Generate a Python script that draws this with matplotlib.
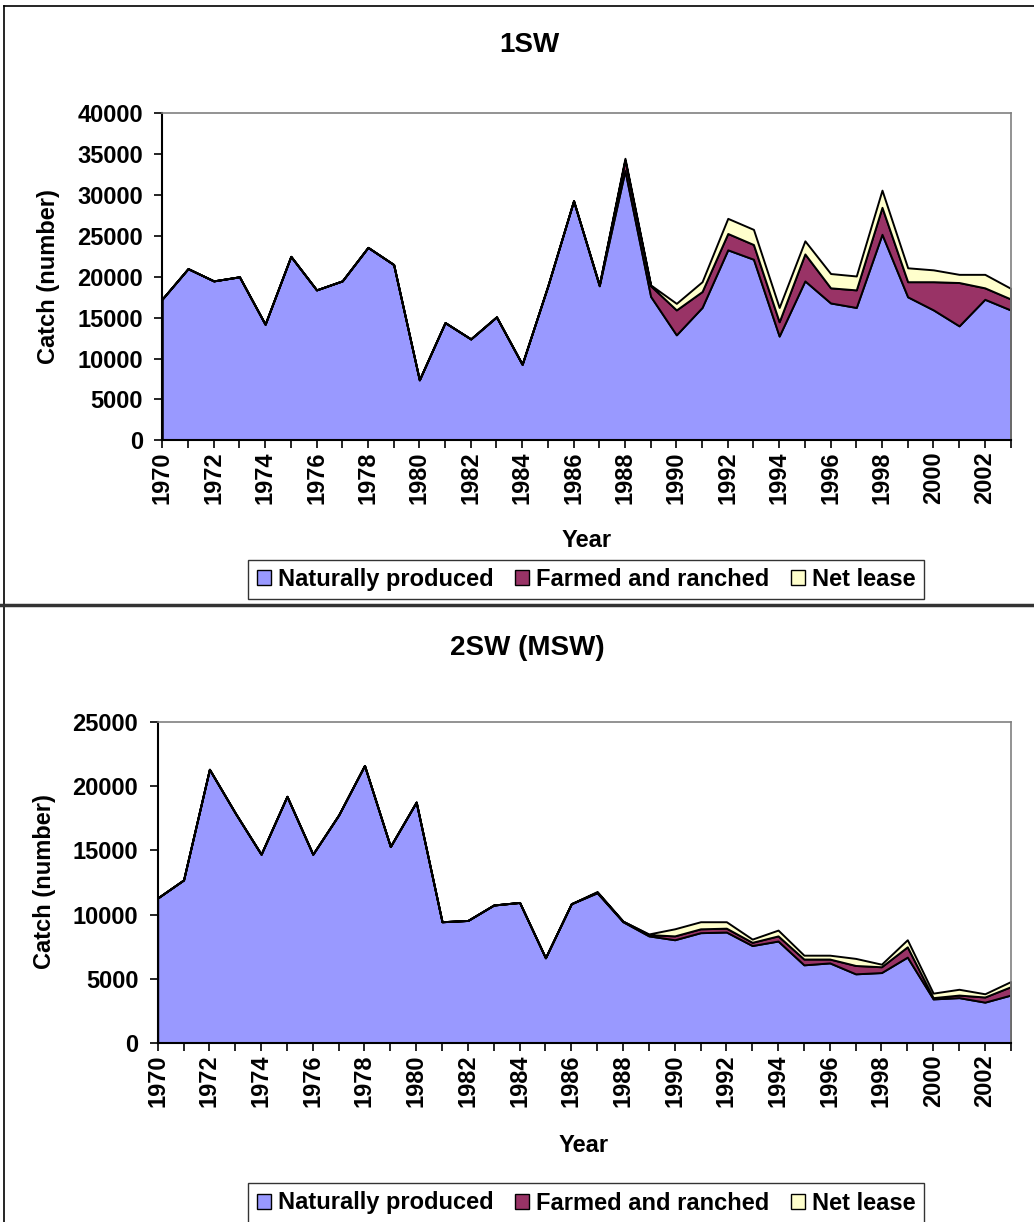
import numpy as np
import matplotlib
matplotlib.use("Agg")
import matplotlib.pyplot as plt
from matplotlib.patches import Patch
from matplotlib.lines import Line2D

plt.rcParams['font.family'] = ['Liberation Sans', 'DejaVu Sans']
plt.rcParams['font.weight'] = 'bold'

years = list(range(1970, 2004))

# 1SW catch (number)
sw1_natural = [17300, 21000, 19500, 20000, 14200, 22500, 18400, 19500, 23600, 21500,
               7400, 14400, 12400, 15100, 9300, 18900, 29300, 18900, 33000, 17600,
               12900, 16250, 23300, 22150, 12750, 19500, 16800, 16250, 25200, 17550,
               15950, 14000, 17250, 15950]
sw1_farmed = [0] * 17 + [100, 1300, 1300,
                         3050, 1950, 2000, 1800, 1750, 3300, 1850, 2150, 3300, 1850,
                         3450, 5300, 1400, 1350]
sw1_lease = [0] * 17 + [0, 200, 100,
                        800, 1200, 1850, 1850, 1750, 1600, 1750, 1700, 2100, 1700,
                        1450, 1000, 1650, 1300]

# 2SW (MSW) catch (number)
sw2_natural = [11300, 12700, 21300, 17900, 14700, 19200, 14700, 17750, 21600, 15300,
               18750, 9450, 9550, 10750, 10950, 6650, 10850, 11700, 9450, 8350,
               8050, 8600, 8650, 7600, 7950, 6100, 6250, 5400, 5500, 6700,
               3450, 3550, 3200, 3750]
sw2_farmed = [0] * 17 + [50, 30, 100,
                         300, 300, 300, 250, 400, 450, 300, 650, 450, 800,
                         100, 200, 400, 650]
sw2_lease = [0] * 17 + [50, 20, 50,
                        550, 550, 500, 250, 450, 300, 300, 550, 200, 550,
                        350, 450, 250, 400]

series_names = ['Naturally produced', 'Farmed and ranched', 'Net lease']
colors = ['#9999FF', '#993366', '#FFFFCC']

W, H = 1034, 1222
fig = plt.figure(figsize=(W / 100, H / 100), dpi=100)


def fx(px):
    return px / W


def fy(py):
    return 1 - py / H


def draw_panel(rect, nat, farm, lease, ymax, title, title_xy, ylab_xy, xlab_xy, leg_xy):
    ax = fig.add_axes(rect)
    ax.stackplot(years, nat, farm, lease, colors=colors, edgecolor='black', linewidth=1.4)
    ax.set_xlim(years[0], years[-1])
    ax.set_ylim(0, ymax)
    ax.set_yticks(np.arange(0, ymax + 1, 5000))
    ax.set_xticks(years)
    ax.set_xticklabels([str(y) if y % 2 == 0 else '' for y in years], rotation=90)
    ax.tick_params(axis='both', direction='out', length=6, width=1.2, labelsize=17, color='black')
    ax.tick_params(axis='x', pad=2)
    ax.tick_params(axis='y', pad=8)
    for lab in ax.get_xticklabels() + ax.get_yticklabels():
        lab.set_fontweight('bold')
    ax.spines['left'].set_color('black')
    ax.spines['bottom'].set_color('black')
    ax.spines['left'].set_linewidth(1.5)
    ax.spines['bottom'].set_linewidth(1.5)
    ax.spines['top'].set_color('#808080')
    ax.spines['right'].set_color('#808080')
    ax.spines['top'].set_linewidth(1.2)
    ax.spines['right'].set_linewidth(1.2)

    fig.text(fx(title_xy[0]), fy(title_xy[1]), title, ha='center', va='center',
             fontsize=20, fontweight='bold')
    fig.text(fx(ylab_xy[0]), fy(ylab_xy[1]), 'Catch (number)', ha='center', va='center',
             rotation=90, fontsize=17, fontweight='bold')
    fig.text(fx(xlab_xy[0]), fy(xlab_xy[1]), 'Year', ha='center', va='center',
             fontsize=17, fontweight='bold')

    handles = [Patch(facecolor=c, edgecolor='black', linewidth=1) for c in colors]
    leg = fig.legend(handles, series_names, loc='center', bbox_to_anchor=(fx(leg_xy[0]), fy(leg_xy[1])),
                     ncol=3, frameon=True, fancybox=False, edgecolor='black',
                     prop={'size': 17, 'weight': 'bold'},
                     handlelength=0.6, handleheight=0.6, handletextpad=0.3,
                     columnspacing=0.9, borderpad=0.35, borderaxespad=0)
    leg.get_frame().set_linewidth(1.0)
    return ax


# top panel: 1SW
draw_panel([fx(162.3), fy(440.3), fx(1010.5) - fx(162.3), (440.3 - 113.3) / H],
           sw1_natural, sw1_farmed, sw1_lease, 40000, '1SW',
           (529, 45), (49, 277), (587, 540), (586, 579.5))

# bottom panel: 2SW (MSW)
draw_panel([fx(157.7), fy(1043.3), fx(1010.7) - fx(157.7), (1043.3 - 721.7) / H],
           sw2_natural, sw2_farmed, sw2_lease, 25000, '2SW (MSW)',
           (527, 648), (45, 882), (584, 1145), (586, 1203))

# panel frames
fig.add_artist(Line2D([fx(4), fx(W)], [fy(6), fy(6)], color='black', lw=1.2))
fig.add_artist(Line2D([fx(4), fx(4)], [fy(6), fy(H)], color='black', lw=1.2))
fig.add_artist(Line2D([fx(0), fx(W)], [fy(604.5), fy(604.5)], color='#333333', lw=2.5))

fig.savefig('out.png', dpi=100)
